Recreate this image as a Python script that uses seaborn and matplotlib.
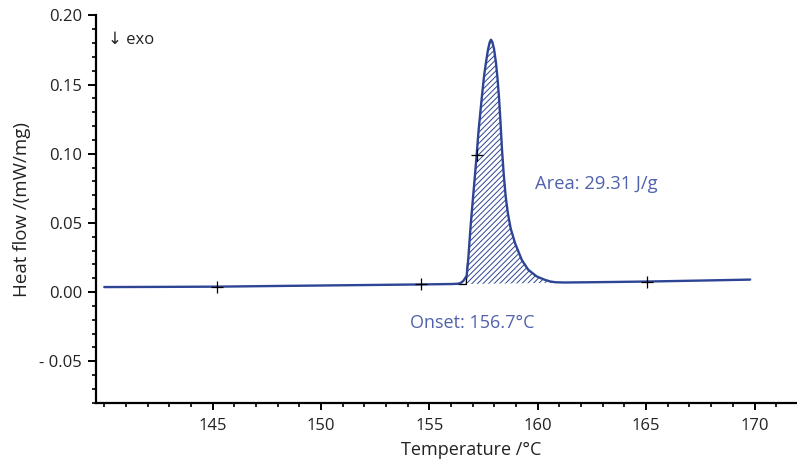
import matplotlib
matplotlib.use("Agg")
import matplotlib.pyplot as plt
from matplotlib.ticker import MultipleLocator, FixedLocator, FixedFormatter
import seaborn as sns
import pandas as pd

# DSC heating curve
temperature = [140.0, 142.0, 145.2, 148.0, 151.0, 154.6, 156.0, 156.3, 156.45,
               156.56, 156.64, 156.72, 156.79, 156.90, 157.00, 157.10, 157.18,
               157.27, 157.42, 157.52, 157.61, 157.70, 157.78, 157.84, 157.90,
               157.98, 158.07, 158.14, 158.21, 158.28, 158.35, 158.43, 158.52,
               158.62, 158.75, 158.95, 159.26, 159.56, 159.95, 160.30, 160.56,
               160.80, 161.20, 162.5, 165.05, 167.5, 169.8]
heat_flow = [0.0036, 0.0037, 0.0039, 0.0044, 0.0049, 0.0055, 0.0058, 0.0060, 0.0066,
             0.0080, 0.0098, 0.0118, 0.0233, 0.0474, 0.0660, 0.0840, 0.0990,
             0.1170, 0.1410, 0.1560, 0.1660, 0.1750, 0.1805, 0.1825, 0.1810,
             0.1760, 0.1660, 0.1550, 0.1410, 0.1230, 0.1030, 0.0850, 0.0690,
             0.0570, 0.0460, 0.0354, 0.0233, 0.0161, 0.0113, 0.0090, 0.0077,
             0.0071, 0.0069, 0.0071, 0.0076, 0.0083, 0.0090]

# evaluation points marked on the curve
mark_t = [145.2, 154.6, 157.18, 165.05]
mark_y = [0.0039, 0.0055, 0.0990, 0.0076]

# integration limits and baseline of the peak area
onset_t = 156.7
peak_end_t = 161.2
base_y_start = 0.0058
base_y_end = 0.0068

area_text = "Area: 29.31 J/g"
onset_text = "Onset: 156.7°C"

x_ticks = [145, 150, 155, 160, 165, 170]
y_ticks = [-0.05, 0.00, 0.05, 0.10, 0.15, 0.20]
y_tick_labels = ["- 0.05", "0.00", "0.05", "0.10", "0.15", "0.20"]

curve_color = "#2e4494"
text_color = "#5062aa"
axis_text = "#222222"

sns.set_theme(style="ticks")
plt.rcParams["font.family"] = ["Open Sans", "DejaVu Sans"]

df = pd.DataFrame({"Temperature": temperature, "Heat flow": heat_flow})

fig = plt.figure(figsize=(7.97, 4.62), dpi=100)
ax = fig.add_axes([0.1205, 0.1284, 0.8795, 0.8381])

# hatched peak area between curve and linear baseline
seg = df[(df["Temperature"] >= onset_t) & (df["Temperature"] <= peak_end_t)]
t_seg = [onset_t] + list(seg["Temperature"]) + [peak_end_t]
y_seg = [base_y_start + 0.0042] + list(seg["Heat flow"]) + [0.0069]
base = [base_y_start + (t - onset_t) / (peak_end_t - onset_t) * (base_y_end - base_y_start)
        for t in t_seg]
plt.rcParams["hatch.linewidth"] = 0.7
ax.fill_between(t_seg, base, y_seg, facecolor="none", edgecolor=curve_color,
                linewidth=0, hatch="//////", zorder=1)

sns.lineplot(data=df, x="Temperature", y="Heat flow", ax=ax, color=curve_color,
             linewidth=1.7, zorder=3, sort=False)

# onset construction
ax.plot([156.32, onset_t], [base_y_start, base_y_start], color="black", lw=0.9, zorder=2)
ax.plot([onset_t, onset_t + 0.06], [base_y_start, 0.021], color="black", lw=0.9, zorder=2)

ax.scatter(mark_t, mark_y, marker="+", s=70, color="black", linewidths=0.9, zorder=4)

ax.text(159.87, 0.0782, area_text, color=text_color, fontsize=13.2, va="center", ha="left")
ax.text(154.1, -0.0222, onset_text, color=text_color, fontsize=13.0, va="center", ha="left")
ax.text(0.017, 0.937, "↓ exo", transform=ax.transAxes, color=axis_text, fontsize=12,
        va="center", ha="left")

ax.set_xlim(139.62, 171.96)
ax.set_ylim(-0.08, 0.20)
ax.xaxis.set_major_locator(FixedLocator(x_ticks))
ax.xaxis.set_minor_locator(MultipleLocator(1))
ax.yaxis.set_major_locator(FixedLocator(y_ticks))
ax.yaxis.set_major_formatter(FixedFormatter(y_tick_labels))
ax.yaxis.set_minor_locator(MultipleLocator(0.01))

ax.set_xlabel("Temperature /°C", fontsize=13, color=axis_text)
ax.set_ylabel("Heat flow /(mW/mg)", fontsize=13.5, color=axis_text, labelpad=6)
ax.xaxis.set_label_coords(0.535, -0.10)

sns.despine(ax=ax)
for side in ("left", "bottom"):
    ax.spines[side].set_linewidth(1.6)
    ax.spines[side].set_color("black")
ax.tick_params(axis="both", which="major", direction="out", length=5, width=1.4,
               labelsize=12, labelcolor=axis_text, color="black", pad=6)
ax.tick_params(axis="both", which="minor", direction="out", length=3, width=1.2,
               color="black")
ax.tick_params(axis="y", which="major", length=6, pad=4)

fig.savefig("out.png", dpi=100)
